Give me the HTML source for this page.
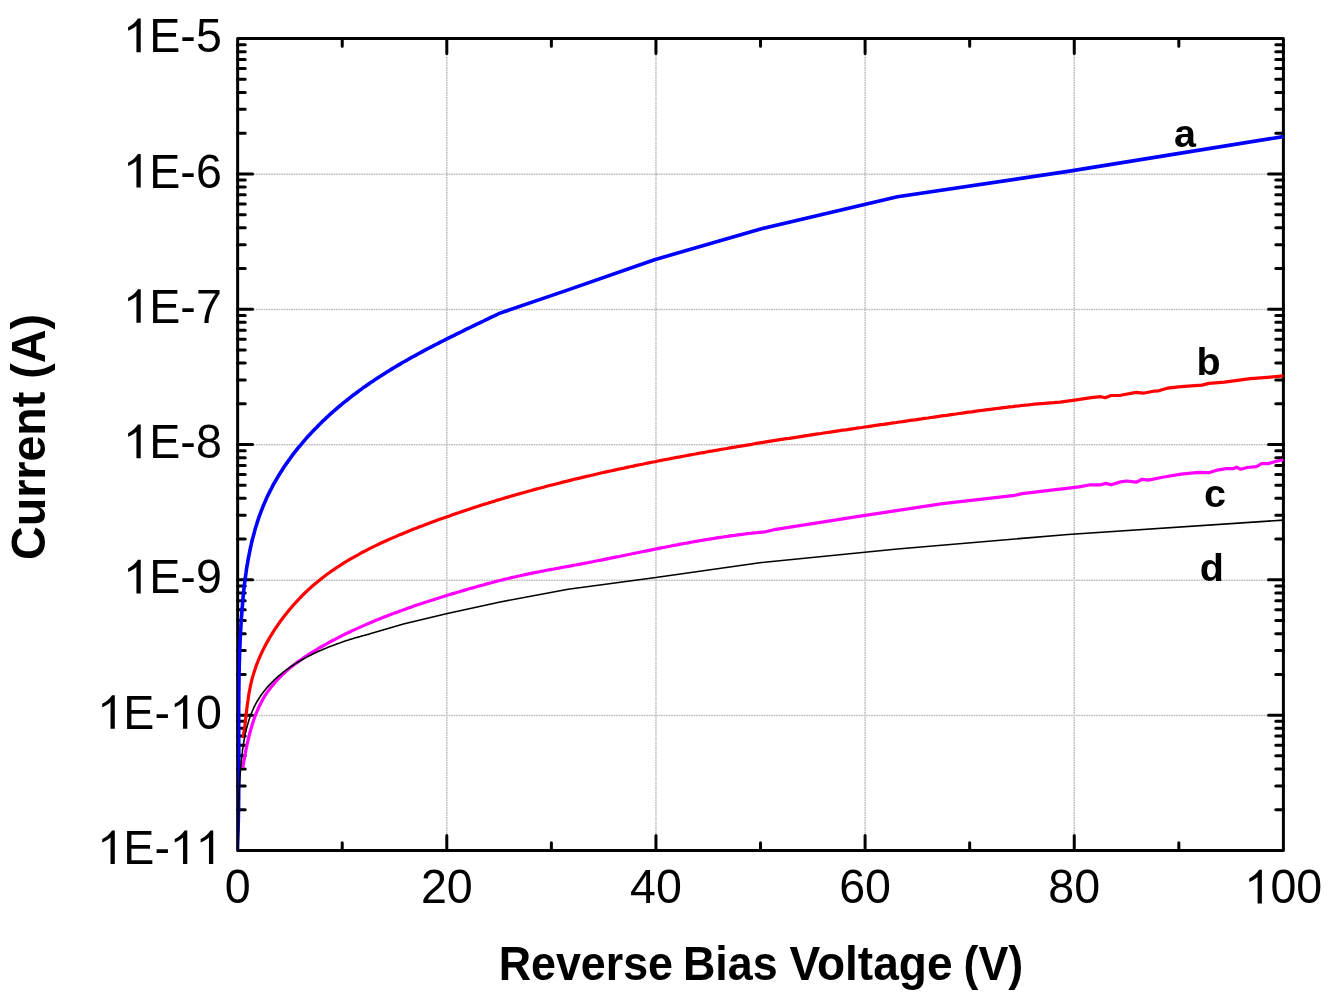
<!DOCTYPE html><html><head><meta charset="utf-8"><style>html,body{margin:0;padding:0;background:#fff;overflow:hidden;width:1329px;height:1000px;}svg{display:block;will-change:transform;}text{font-family:"Liberation Sans",sans-serif;}</style></head><body>
<svg width="1329" height="1000" viewBox="0 0 1329 1000">
<rect width="1329" height="1000" fill="#fff"/>
<path d="M446.80 54.60V834.45M655.95 54.60V834.45M865.10 54.60V834.45M1074.25 54.60V834.45M253.65 174.21H1267.40M253.65 309.52H1267.40M253.65 444.83H1267.40M253.65 580.13H1267.40M253.65 715.44H1267.40" stroke="#bdbdbd" stroke-width="1.5" stroke-dasharray="1.7 0.8" fill="none"/>
<path d="M342.23 850.45v-7.6M342.23 38.60v7.6M446.80 850.45v-14.9M446.80 38.60v14.9M551.38 850.45v-7.6M551.38 38.60v7.6M655.95 850.45v-14.9M655.95 38.60v14.9M760.52 850.45v-7.6M760.52 38.60v7.6M865.10 850.45v-14.9M865.10 38.60v14.9M969.67 850.45v-7.6M969.67 38.60v7.6M1074.25 850.45v-14.9M1074.25 38.60v14.9M1178.83 850.45v-7.6M1178.83 38.60v7.6M237.65 133.18h7.6M1283.40 133.18h-7.6M237.65 109.35h7.6M1283.40 109.35h-7.6M237.65 92.44h7.6M1283.40 92.44h-7.6M237.65 79.33h7.6M1283.40 79.33h-7.6M237.65 68.62h7.6M1283.40 68.62h-7.6M237.65 59.56h7.6M1283.40 59.56h-7.6M237.65 51.71h7.6M1283.40 51.71h-7.6M237.65 44.79h7.6M1283.40 44.79h-7.6M237.65 173.91h14.9M1283.40 173.91h-14.9M237.65 268.48h7.6M1283.40 268.48h-7.6M237.65 244.66h7.6M1283.40 244.66h-7.6M237.65 227.75h7.6M1283.40 227.75h-7.6M237.65 214.64h7.6M1283.40 214.64h-7.6M237.65 203.93h7.6M1283.40 203.93h-7.6M237.65 194.87h7.6M1283.40 194.87h-7.6M237.65 187.02h7.6M1283.40 187.02h-7.6M237.65 180.10h7.6M1283.40 180.10h-7.6M237.65 309.22h14.9M1283.40 309.22h-14.9M237.65 403.79h7.6M1283.40 403.79h-7.6M237.65 379.97h7.6M1283.40 379.97h-7.6M237.65 363.06h7.6M1283.40 363.06h-7.6M237.65 349.95h7.6M1283.40 349.95h-7.6M237.65 339.23h7.6M1283.40 339.23h-7.6M237.65 330.18h7.6M1283.40 330.18h-7.6M237.65 322.33h7.6M1283.40 322.33h-7.6M237.65 315.41h7.6M1283.40 315.41h-7.6M237.65 444.53h14.9M1283.40 444.53h-14.9M237.65 539.10h7.6M1283.40 539.10h-7.6M237.65 515.27h7.6M1283.40 515.27h-7.6M237.65 498.37h7.6M1283.40 498.37h-7.6M237.65 485.26h7.6M1283.40 485.26h-7.6M237.65 474.54h7.6M1283.40 474.54h-7.6M237.65 465.48h7.6M1283.40 465.48h-7.6M237.65 457.64h7.6M1283.40 457.64h-7.6M237.65 450.72h7.6M1283.40 450.72h-7.6M237.65 579.83h14.9M1283.40 579.83h-14.9M237.65 674.41h7.6M1283.40 674.41h-7.6M237.65 650.58h7.6M1283.40 650.58h-7.6M237.65 633.68h7.6M1283.40 633.68h-7.6M237.65 620.57h7.6M1283.40 620.57h-7.6M237.65 609.85h7.6M1283.40 609.85h-7.6M237.65 600.79h7.6M1283.40 600.79h-7.6M237.65 592.95h7.6M1283.40 592.95h-7.6M237.65 586.02h7.6M1283.40 586.02h-7.6M237.65 715.14h14.9M1283.40 715.14h-14.9M237.65 809.72h7.6M1283.40 809.72h-7.6M237.65 785.89h7.6M1283.40 785.89h-7.6M237.65 768.99h7.6M1283.40 768.99h-7.6M237.65 755.87h7.6M1283.40 755.87h-7.6M237.65 745.16h7.6M1283.40 745.16h-7.6M237.65 736.10h7.6M1283.40 736.10h-7.6M237.65 728.25h7.6M1283.40 728.25h-7.6M237.65 721.33h7.6M1283.40 721.33h-7.6" stroke="#000" stroke-width="3" stroke-linecap="round" fill="none"/>
<rect x="237.65" y="38.6" width="1045.75" height="811.85" fill="none" stroke="#000" stroke-width="3" stroke-linejoin="round"/>
<clipPath id="pc"><rect x="237.65" y="36.6" width="1046.55" height="813.85"/></clipPath><g clip-path="url(#pc)">
<path d="M237.3 850.0 L237.4 847.4 L237.5 844.9 L237.6 842.3 L237.7 839.8 L237.8 837.2 L237.9 834.7 L238.0 832.1 L238.1 829.6 L238.1 827.0 L238.2 824.5 L238.3 821.9 L238.3 819.4 L238.4 816.8 L238.4 814.3 L238.5 811.7 L238.5 809.2 L238.6 806.7 L238.6 804.1 L238.6 801.6 L238.7 799.0 L238.7 796.5 L238.7 793.9 L238.7 791.4 L238.7 788.9 L238.8 786.3 L238.8 783.8 L238.8 781.2 L238.8 778.7 L238.8 776.2 L238.8 773.6 L238.8 771.1 L238.8 768.5 L238.8 766.0 L238.8 763.5 L238.8 760.9 L238.8 758.4 L238.8 755.8 L238.8 753.3 L238.8 750.8 L238.8 748.2 L238.8 745.7 L238.8 743.2 L238.7 740.6 L238.7 738.1 L238.7 735.5 L238.7 733.0 L238.7 730.5 L238.7 727.9 L238.7 725.4 L238.7 722.8 L238.7 720.3 L238.7 717.8 L238.7 715.2 L238.7 712.7 L238.7 710.1 L238.7 707.6 L238.7 705.1 L238.8 702.5 L238.8 700.0 L238.8 697.4 L238.8 694.9 L238.8 692.3 L238.9 689.8 L238.9 687.3 L238.9 684.7 L239.0 682.2 L239.0 679.6 L239.0 677.1 L239.1 674.5 L239.1 672.0 L239.2 669.4 L239.2 666.9 L239.3 664.3 L239.4 661.8 L239.5 659.2 L239.5 656.7 L239.6 654.1 L239.7 651.6 L239.8 649.0 L239.9 646.5 L240.0 643.9 L240.1 641.4 L240.2 638.8 L240.4 636.3 L240.5 633.7 L240.6 631.2 L240.8 628.6 L240.9 626.0 L241.1 623.5 L241.2 620.9 L241.4 618.4 L241.6 615.8 L241.8 613.2 L241.9 610.7 L242.1 608.1 L242.4 605.5 L242.6 603.0 L242.8 600.4 L243.0 597.8 L243.3 595.3 L243.5 592.7 L243.8 590.2 L244.1 587.6 L244.4 585.0 L244.7 582.5 L245.0 579.9 L245.4 577.4 L245.7 574.9 L246.1 572.3 L246.4 569.8 L246.8 567.2 L247.3 564.7 L247.7 562.2 L248.1 559.7 L248.6 557.2 L249.1 554.7 L249.6 552.2 L250.1 549.7 L250.6 547.2 L251.2 544.7 L251.7 542.2 L252.3 539.8 L253.0 537.3 L253.6 534.9 L254.3 532.4 L254.9 530.0 L255.6 527.6 L256.4 525.2 L257.1 522.8 L257.9 520.4 L258.7 518.0 L259.5 515.6 L260.4 513.3 L261.3 510.9 L262.2 508.6 L263.1 506.2 L264.1 503.9 L265.1 501.6 L266.1 499.3 L267.1 497.1 L268.2 494.8 L269.3 492.6 L270.4 490.3 L271.6 488.1 L272.7 485.9 L273.9 483.7 L275.2 481.5 L276.4 479.3 L277.7 477.1 L279.0 475.0 L280.3 472.9 L281.7 470.7 L283.0 468.6 L284.4 466.5 L285.8 464.4 L287.3 462.4 L288.7 460.3 L290.2 458.3 L291.7 456.2 L293.2 454.2 L294.8 452.2 L296.4 450.2 L297.9 448.2 L299.5 446.3 L301.2 444.3 L302.8 442.4 L304.5 440.5 L306.1 438.5 L307.8 436.6 L309.6 434.8 L311.3 432.9 L313.0 431.0 L314.8 429.2 L316.6 427.4 L318.4 425.5 L320.2 423.7 L322.0 421.9 L323.9 420.2 L325.7 418.4 L327.6 416.7 L329.5 414.9 L331.4 413.2 L333.3 411.5 L335.2 409.8 L337.2 408.1 L339.1 406.5 L341.1 404.8 L343.1 403.2 L345.1 401.6 L347.1 400.0 L349.1 398.4 L351.1 396.8 L353.1 395.2 L355.2 393.7 L357.2 392.2 L359.3 390.6 L361.4 389.1 L363.4 387.6 L365.5 386.2 L367.6 384.7 L369.7 383.2 L371.9 381.8 L374.0 380.4 L376.1 378.9 L378.3 377.5 L380.4 376.2 L382.6 374.8 L384.7 373.4 L386.9 372.0 L389.1 370.7 L391.2 369.4 L393.4 368.0 L395.6 366.7 L397.8 365.4 L400.0 364.1 L402.2 362.8 L404.5 361.5 L406.7 360.3 L408.9 359.0 L411.1 357.7 L413.4 356.5 L415.6 355.3 L417.9 354.0 L420.1 352.8 L422.3 351.6 L424.6 350.4 L426.9 349.2 L429.1 348.0 L431.4 346.8 L433.6 345.7 L435.9 344.5 L438.2 343.3 L440.4 342.2 L442.7 341.0 L445.0 339.9 L447.3 338.7 L449.5 337.6 L451.8 336.4 L454.1 335.3 L456.4 334.2 L458.6 333.1 L460.9 332.0 L463.2 330.9 L465.5 329.7 L467.7 328.6 L470.0 327.5 L472.3 326.4 L474.5 325.3 L476.8 324.2 L479.1 323.2 L481.3 322.1 L483.6 321.0 L485.8 319.9 L488.1 318.8 L490.3 317.7 L492.6 316.6 L494.8 315.6 L497.1 314.5 L499.3 313.4 L568.1 289.9 L654.5 259.7 L761.5 228.7 L897.4 196.8 L1068.0 171.4 L1283.4 136.6" stroke="#0000ff" stroke-width="3.6" fill="none" stroke-linejoin="round" stroke-linecap="butt"/>
<path d="M243.1 738.0 L243.6 734.9 L244.0 731.8 L244.5 728.6 L244.9 725.5 L245.2 722.3 L245.6 719.2 L246.0 716.0 L246.3 712.9 L246.7 709.7 L247.1 706.5 L247.5 703.4 L248.0 700.2 L248.4 697.1 L248.9 693.9 L249.5 690.8 L250.1 687.7 L250.7 684.6 L251.5 681.5 L252.2 678.4 L253.1 675.4 L254.0 672.4 L255.0 669.4 L256.0 666.4 L257.1 663.4 L258.3 660.5 L259.5 657.6 L260.8 654.7 L262.1 651.8 L263.5 649.0 L265.0 646.1 L266.5 643.3 L268.0 640.6 L269.6 637.8 L271.2 635.1 L272.9 632.4 L274.6 629.7 L276.4 627.1 L278.2 624.4 L280.0 621.8 L281.9 619.3 L283.8 616.7 L285.8 614.2 L287.8 611.7 L289.8 609.3 L291.8 606.9 L293.9 604.5 L296.1 602.1 L298.2 599.8 L300.4 597.5 L302.7 595.2 L304.9 593.0 L307.2 590.8 L309.5 588.6 L311.9 586.5 L314.3 584.4 L316.7 582.4 L319.2 580.4 L321.6 578.4 L324.2 576.4 L326.7 574.5 L329.3 572.7 L331.9 570.8 L334.5 569.1 L337.1 567.3 L339.8 565.6 L342.5 563.9 L345.2 562.2 L347.9 560.5 L350.6 558.9 L353.4 557.3 L356.1 555.8 L358.9 554.3 L361.7 552.7 L364.5 551.3 L367.3 549.8 L370.1 548.4 L373.0 546.9 L375.8 545.6 L378.7 544.2 L381.6 542.8 L384.5 541.5 L387.3 540.2 L390.2 538.9 L393.2 537.6 L396.1 536.4 L399.0 535.1 L401.9 533.9 L404.9 532.7 L407.8 531.5 L410.8 530.3 L413.7 529.1 L416.7 528.0 L419.6 526.8 L422.6 525.7 L425.6 524.5 L428.5 523.4 L431.5 522.3 L434.5 521.2 L437.5 520.1 L440.5 519.0 L443.5 518.0 L446.5 516.9 L449.5 515.9 L452.5 514.8 L455.5 513.8 L458.5 512.8 L461.5 511.7 L464.5 510.7 L467.5 509.7 L470.5 508.7 L473.5 507.7 L476.5 506.8 L479.6 505.8 L482.6 504.8 L485.6 503.9 L488.6 502.9 L491.7 502.0 L494.7 501.1 L497.7 500.1 L500.8 499.2 L503.8 498.3 L506.9 497.4 L509.9 496.5 L512.9 495.6 L516.0 494.7 L519.0 493.9 L522.1 493.0 L525.1 492.2 L528.2 491.3 L531.3 490.5 L534.3 489.6 L537.4 488.8 L540.5 488.0 L543.5 487.2 L546.6 486.3 L549.7 485.5 L552.7 484.7 L555.8 484.0 L558.9 483.2 L562.0 482.4 L565.0 481.6 L568.1 480.9 L571.2 480.1 L574.3 479.3 L577.4 478.6 L580.5 477.9 L583.5 477.1 L586.6 476.4 L589.7 475.7 L592.8 475.0 L595.9 474.2 L599.0 473.5 L602.1 472.8 L605.2 472.1 L608.3 471.4 L611.4 470.8 L614.5 470.1 L617.6 469.4 L620.7 468.7 L623.8 468.1 L626.9 467.4 L630.0 466.7 L633.1 466.1 L636.3 465.4 L639.4 464.8 L642.5 464.2 L645.6 463.5 L648.7 462.9 L651.8 462.3 L654.9 461.7 L658.0 461.0 L661.2 460.4 L664.3 459.8 L667.4 459.2 L670.5 458.6 L673.6 458.0 L676.8 457.4 L679.9 456.9 L683.0 456.3 L686.1 455.7 L689.2 455.1 L692.4 454.5 L695.5 454.0 L698.6 453.4 L701.7 452.8 L704.9 452.3 L708.0 451.7 L711.1 451.2 L714.3 450.6 L717.4 450.1 L720.5 449.5 L723.6 449.0 L726.8 448.5 L729.9 447.9 L733.0 447.4 L736.2 446.9 L739.3 446.3 L742.4 445.8 L745.6 445.3 L748.7 444.8 L751.8 444.3 L755.0 443.7 L758.1 443.2 L761.2 442.7 L764.4 442.2 L767.5 441.7 L770.6 441.2 L773.8 440.7 L776.9 440.2 L780.0 439.7 L783.2 439.2 L786.3 438.7 L789.4 438.3 L792.6 437.8 L795.7 437.3 L798.9 436.8 L802.0 436.3 L805.1 435.8 L808.3 435.4 L811.4 434.9 L814.5 434.4 L817.7 433.9 L820.8 433.5 L824.0 433.0 L827.1 432.5 L830.2 432.1 L833.4 431.6 L836.5 431.1 L839.7 430.7 L842.8 430.2 L846.0 429.8 L849.1 429.3 L852.2 428.8 L855.4 428.4 L858.5 427.9 L861.7 427.5 L864.8 427.0 L867.9 426.6 L871.1 426.1 L874.2 425.6 L877.4 425.2 L880.5 424.7 L883.7 424.3 L886.8 423.8 L889.9 423.4 L893.1 422.9 L896.2 422.5 L899.4 422.0 L902.5 421.6 L905.7 421.1 L908.8 420.7 L911.9 420.2 L915.1 419.8 L918.2 419.3 L921.4 418.9 L924.5 418.4 L927.7 418.0 L930.8 417.5 L933.9 417.1 L937.1 416.6 L940.2 416.2 L943.4 415.7 L946.5 415.3 L949.6 414.8 L952.8 414.4 L955.9 414.0 L959.1 413.5 L962.2 413.1 L965.4 412.6 L968.5 412.2 L971.7 411.8 L974.8 411.3 L977.9 410.9 L981.1 410.5 L984.2 410.1 L987.4 409.7 L990.5 409.3 L993.7 408.9 L996.8 408.5 L1000.0 408.1 L1003.1 407.7 L1006.3 407.3 L1009.4 406.9 L1012.6 406.6 L1015.7 406.2 L1018.9 405.9 L1022.0 405.5 L1025.2 405.2 L1028.4 404.9 L1031.5 404.5 L1034.7 404.2 L1037.8 403.9 L1041.0 403.6 L1044.2 403.4 L1047.3 403.1 L1050.5 402.8 L1053.7 402.6 L1056.8 402.3 L1060.0 402.1 L1074.7 400.2 L1091.2 397.7 L1100.7 396.7 L1105.3 397.7 L1111.1 395.5 L1120.6 395.3 L1136.2 392.4 L1143.1 393.2 L1153.5 391.2 L1158.6 390.8 L1167.3 388.2 L1181.1 386.7 L1201.9 385.1 L1208.8 383.4 L1224.4 382.2 L1250.4 378.7 L1267.7 377.3 L1283.3 375.9" stroke="#ff0000" stroke-width="3.2" fill="none" stroke-linejoin="round" stroke-linecap="butt"/>
<path d="M242.7 767.9 L243.1 765.6 L243.5 763.2 L243.9 760.8 L244.4 758.4 L244.8 756.0 L245.3 753.5 L245.7 751.1 L246.2 748.7 L246.7 746.3 L247.2 743.9 L247.8 741.4 L248.3 739.0 L248.9 736.6 L249.5 734.2 L250.2 731.8 L250.8 729.4 L251.5 727.0 L252.2 724.7 L253.0 722.3 L253.7 720.0 L254.5 717.7 L255.4 715.4 L256.3 713.1 L257.2 710.8 L258.2 708.6 L259.2 706.4 L260.3 704.2 L261.4 702.0 L262.5 699.9 L263.7 697.8 L265.0 695.7 L266.3 693.7 L267.7 691.7 L269.1 689.8 L270.5 687.8 L272.0 685.9 L273.6 684.1 L275.2 682.2 L276.8 680.4 L278.5 678.7 L280.2 676.9 L281.9 675.2 L283.7 673.5 L285.5 671.9 L287.3 670.2 L289.2 668.6 L291.1 667.1 L293.0 665.5 L295.0 664.0 L296.9 662.6 L298.9 661.1 L301.0 659.7 L303.0 658.3 L305.0 656.9 L307.1 655.5 L309.2 654.2 L311.3 652.9 L313.4 651.6 L315.5 650.3 L317.6 649.0 L319.8 647.7 L321.9 646.5 L324.0 645.3 L326.2 644.1 L328.3 642.9 L330.5 641.7 L332.7 640.5 L334.9 639.4 L337.0 638.3 L339.2 637.1 L341.4 636.0 L343.6 634.9 L345.8 633.8 L348.0 632.8 L350.2 631.7 L352.4 630.6 L354.7 629.6 L356.9 628.6 L359.1 627.6 L361.4 626.6 L363.6 625.6 L365.9 624.6 L368.1 623.6 L370.4 622.7 L372.6 621.7 L374.9 620.8 L377.1 619.8 L379.4 618.9 L381.7 618.0 L384.0 617.1 L386.3 616.2 L388.5 615.3 L390.8 614.4 L393.1 613.6 L395.4 612.7 L397.7 611.9 L400.0 611.0 L402.3 610.2 L404.6 609.4 L406.9 608.5 L409.3 607.7 L411.6 606.9 L413.9 606.1 L416.2 605.3 L418.6 604.5 L420.9 603.8 L423.2 603.0 L425.5 602.2 L427.9 601.5 L430.2 600.7 L432.6 600.0 L434.9 599.2 L437.2 598.5 L439.6 597.7 L441.9 597.0 L444.3 596.3 L446.6 595.5 L449.0 594.8 L451.3 594.1 L453.7 593.4 L456.0 592.7 L458.4 592.0 L460.8 591.3 L463.1 590.6 L465.5 589.9 L467.8 589.2 L470.2 588.5 L472.6 587.9 L474.9 587.2 L477.3 586.5 L479.7 585.9 L482.0 585.2 L484.4 584.6 L486.8 583.9 L489.2 583.3 L491.5 582.7 L493.9 582.0 L496.3 581.4 L498.7 580.8 L501.1 580.2 L503.4 579.6 L505.8 579.0 L508.2 578.5 L510.6 577.9 L513.0 577.3 L515.4 576.8 L517.8 576.2 L520.2 575.7 L522.6 575.2 L525.0 574.6 L527.4 574.1 L529.8 573.6 L532.2 573.1 L534.6 572.6 L537.0 572.2 L539.4 571.7 L541.8 571.2 L544.2 570.8 L546.6 570.3 L549.0 569.8 L551.5 569.4 L553.9 569.0 L556.3 568.5 L558.7 568.1 L561.1 567.6 L563.5 567.2 L565.9 566.7 L568.4 566.3 L570.8 565.9 L573.2 565.4 L575.6 565.0 L578.0 564.5 L580.4 564.1 L582.8 563.6 L585.3 563.2 L587.7 562.7 L590.1 562.2 L592.5 561.8 L594.9 561.3 L597.3 560.8 L599.7 560.3 L602.1 559.9 L604.6 559.4 L607.0 558.9 L609.4 558.4 L611.8 557.9 L614.2 557.4 L616.6 556.9 L619.0 556.5 L621.4 556.0 L623.8 555.5 L626.2 555.0 L628.7 554.5 L631.1 554.0 L633.5 553.5 L635.9 553.0 L638.3 552.5 L640.7 552.0 L643.1 551.5 L645.5 551.1 L647.9 550.6 L650.3 550.1 L652.8 549.6 L655.2 549.1 L657.6 548.6 L660.0 548.1 L662.4 547.7 L664.8 547.2 L667.2 546.7 L669.6 546.3 L672.1 545.8 L674.5 545.3 L676.9 544.9 L679.3 544.4 L681.7 543.9 L684.1 543.5 L686.6 543.1 L689.0 542.6 L691.4 542.2 L693.8 541.7 L696.2 541.3 L698.7 540.9 L701.1 540.5 L703.5 540.1 L705.9 539.7 L708.3 539.3 L710.8 538.9 L713.2 538.5 L715.6 538.1 L718.1 537.7 L720.5 537.3 L722.9 537.0 L725.3 536.6 L727.8 536.3 L730.2 535.9 L732.6 535.6 L735.1 535.3 L737.5 534.9 L740.0 534.6 L742.4 534.3 L744.8 534.0 L747.3 533.7 L749.7 533.5 L752.2 533.2 L754.6 532.9 L757.0 532.7 L759.5 532.4 L761.9 532.2 L764.4 532.0 L774.1 529.7 L865.1 515.3 L942.6 503.7 L1014.9 495.3 L1022.1 493.6 L1060.0 489.1 L1079.0 486.9 L1090.3 484.8 L1100.7 484.8 L1105.9 483.4 L1111.1 484.8 L1120.6 481.9 L1126.6 481.0 L1136.2 482.2 L1142.2 479.3 L1148.3 480.1 L1163.8 477.0 L1181.1 474.1 L1198.5 472.3 L1208.8 472.7 L1215.8 470.4 L1226.1 468.7 L1233.1 468.7 L1236.5 467.2 L1240.9 469.2 L1246.9 467.5 L1256.4 466.6 L1261.6 463.7 L1267.7 463.7 L1274.6 461.8 L1283.3 459.7" stroke="#ff00ff" stroke-width="3.2" fill="none" stroke-linejoin="round" stroke-linecap="butt"/>
<path d="M237.9 851.1 L237.9 849.6 L238.0 848.1 L238.0 846.6 L238.0 845.2 L238.1 843.7 L238.1 842.2 L238.1 840.8 L238.2 839.3 L238.2 837.9 L238.2 836.4 L238.2 835.0 L238.3 833.5 L238.3 832.1 L238.3 830.6 L238.3 829.2 L238.3 827.7 L238.4 826.3 L238.4 824.9 L238.4 823.4 L238.4 822.0 L238.5 820.6 L238.5 819.1 L238.5 817.7 L238.5 816.3 L238.6 814.8 L238.6 813.4 L238.6 812.0 L238.6 810.6 L238.7 809.1 L238.7 807.7 L238.7 806.3 L238.8 804.9 L238.8 803.4 L238.8 802.0 L238.9 800.6 L238.9 799.2 L239.0 797.8 L239.0 796.3 L239.1 794.9 L239.1 793.5 L239.2 792.1 L239.2 790.6 L239.3 789.2 L239.4 787.8 L239.4 786.4 L239.5 784.9 L239.6 783.5 L239.6 782.1 L239.7 780.7 L239.8 779.2 L239.9 777.8 L240.0 776.4 L240.1 774.9 L240.2 773.5 L240.3 772.1 L240.4 770.6 L240.5 769.2 L240.7 767.8 L240.8 766.3 L240.9 764.9 L241.1 763.4 L241.2 762.0 L241.3 760.5 L241.5 759.1 L241.7 757.6 L241.8 756.2 L242.0 754.7 L242.2 753.3 L242.4 751.8 L242.5 750.3 L242.7 748.9 L243.0 747.4 L243.2 746.0 L243.4 744.5 L243.6 743.0 L243.9 741.6 L244.1 740.1 L244.4 738.7 L244.7 737.2 L244.9 735.8 L245.2 734.3 L245.5 732.9 L245.9 731.5 L246.2 730.0 L246.5 728.6 L246.9 727.2 L247.3 725.8 L247.7 724.4 L248.1 723.0 L248.5 721.6 L248.9 720.2 L249.4 718.8 L249.8 717.5 L250.3 716.1 L250.8 714.8 L251.3 713.4 L251.9 712.1 L252.4 710.8 L253.0 709.5 L253.6 708.2 L254.2 706.9 L254.8 705.6 L255.5 704.4 L256.1 703.2 L256.8 701.9 L257.5 700.7 L258.3 699.5 L259.0 698.3 L259.8 697.2 L260.5 696.0 L261.3 694.8 L262.2 693.7 L263.0 692.6 L263.8 691.5 L264.7 690.4 L265.6 689.3 L266.5 688.2 L267.4 687.1 L268.3 686.1 L269.3 685.0 L270.2 684.0 L271.2 683.0 L272.2 682.0 L273.2 681.0 L274.2 680.0 L275.2 679.0 L276.3 678.1 L277.3 677.1 L278.4 676.2 L279.5 675.3 L280.6 674.4 L281.7 673.5 L282.8 672.6 L283.9 671.7 L285.1 670.8 L286.2 669.9 L287.4 669.1 L288.6 668.3 L289.8 667.4 L290.9 666.6 L292.1 665.8 L293.4 665.0 L294.6 664.2 L295.8 663.4 L297.0 662.7 L298.3 661.9 L299.5 661.2 L300.8 660.4 L302.1 659.7 L303.4 659.0 L304.6 658.3 L305.9 657.6 L307.2 656.9 L308.5 656.2 L309.8 655.5 L311.2 654.9 L312.5 654.2 L313.8 653.6 L315.1 652.9 L316.5 652.3 L317.8 651.7 L319.1 651.1 L320.5 650.5 L321.8 649.9 L323.2 649.3 L324.6 648.7 L325.9 648.2 L327.3 647.6 L328.6 647.1 L330.0 646.5 L331.4 646.0 L332.7 645.5 L334.1 644.9 L335.5 644.4 L336.8 643.9 L338.2 643.4 L339.6 643.0 L341.0 642.5 L342.3 642.0 L343.7 641.5 L345.1 641.1 L346.4 640.6 L347.8 640.2 L349.2 639.8 L350.5 639.3 L351.9 638.9 L353.2 638.5 L354.6 638.1 L355.9 637.7 L357.3 637.3 L358.6 636.9 L359.9 636.6 L361.3 636.2 L362.6 635.8 L363.9 635.5 L365.3 635.1 L366.6 634.8 L367.9 634.4 L369.2 634.1 L403.4 624.0 L446.3 613.8 L500.1 602.0 L568.1 589.3 L654.0 577.8 L761.5 562.5 L897.4 549.0 L1068.0 534.5 L1283.2 520.1" stroke="#000000" stroke-width="1.6" fill="none" stroke-linejoin="round" stroke-linecap="butt"/>
</g>
<defs><path id="one" d="M13.07 0H17.35V-33.6H14.6C12.5 -30.0 8.5 -26.8 4.75 -25.0V-21.5C8 -22.8 10.8 -24.4 13.07 -26.5Z"/></defs>
<use href="#one" transform="translate(123.37 52.20)"/>
<text transform="translate(149.28 52.20) scale(1 1.042)" font-size="46.6">E</text>
<text transform="translate(180.37 52.20) scale(1 1.042)" font-size="46.6">-</text>
<text transform="translate(195.88 52.20) scale(1 1.042)" font-size="46.6">5</text>
<use href="#one" transform="translate(123.37 187.51)"/>
<text transform="translate(149.28 187.51) scale(1 1.042)" font-size="46.6">E</text>
<text transform="translate(180.37 187.51) scale(1 1.042)" font-size="46.6">-</text>
<text transform="translate(195.88 187.51) scale(1 1.042)" font-size="46.6">6</text>
<use href="#one" transform="translate(123.37 322.82)"/>
<text transform="translate(149.28 322.82) scale(1 1.042)" font-size="46.6">E</text>
<text transform="translate(180.37 322.82) scale(1 1.042)" font-size="46.6">-</text>
<text transform="translate(195.88 322.82) scale(1 1.042)" font-size="46.6">7</text>
<use href="#one" transform="translate(123.37 458.13)"/>
<text transform="translate(149.28 458.13) scale(1 1.042)" font-size="46.6">E</text>
<text transform="translate(180.37 458.13) scale(1 1.042)" font-size="46.6">-</text>
<text transform="translate(195.88 458.13) scale(1 1.042)" font-size="46.6">8</text>
<use href="#one" transform="translate(123.37 593.43)"/>
<text transform="translate(149.28 593.43) scale(1 1.042)" font-size="46.6">E</text>
<text transform="translate(180.37 593.43) scale(1 1.042)" font-size="46.6">-</text>
<text transform="translate(195.88 593.43) scale(1 1.042)" font-size="46.6">9</text>
<use href="#one" transform="translate(97.45 728.74)"/>
<text transform="translate(123.37 728.74) scale(1 1.042)" font-size="46.6">E</text>
<text transform="translate(154.45 728.74) scale(1 1.042)" font-size="46.6">-</text>
<use href="#one" transform="translate(169.97 728.74)"/>
<text transform="translate(195.88 728.74) scale(1 1.042)" font-size="46.6">0</text>
<use href="#one" transform="translate(97.45 864.05)"/>
<text transform="translate(123.37 864.05) scale(1 1.042)" font-size="46.6">E</text>
<text transform="translate(154.45 864.05) scale(1 1.042)" font-size="46.6">-</text>
<use href="#one" transform="translate(169.97 864.05)"/>
<use href="#one" transform="translate(195.88 864.05)"/>
<text transform="translate(224.69 903.40) scale(1 1.042)" font-size="46.6">0</text>
<text transform="translate(420.88 903.40) scale(1 1.042)" font-size="46.6">2</text>
<text transform="translate(446.80 903.40) scale(1 1.042)" font-size="46.6">0</text>
<text transform="translate(630.03 903.40) scale(1 1.042)" font-size="46.6">4</text>
<text transform="translate(655.95 903.40) scale(1 1.042)" font-size="46.6">0</text>
<text transform="translate(839.18 903.40) scale(1 1.042)" font-size="46.6">6</text>
<text transform="translate(865.10 903.40) scale(1 1.042)" font-size="46.6">0</text>
<text transform="translate(1048.33 903.40) scale(1 1.042)" font-size="46.6">8</text>
<text transform="translate(1074.25 903.40) scale(1 1.042)" font-size="46.6">0</text>
<use href="#one" transform="translate(1244.52 903.40)"/>
<text transform="translate(1270.44 903.40) scale(1 1.042)" font-size="46.6">0</text>
<text transform="translate(1296.36 903.40) scale(1 1.042)" font-size="46.6">0</text>
<text transform="translate(498.70 980) scale(1.0 1.07)" font-size="44.8" font-weight="bold">Reverse</text>
<text transform="translate(683.00 980) scale(1.0 1.07)" font-size="44.8" font-weight="bold">Bias</text>
<text transform="translate(789.59 980) scale(1.028 1.07)" font-size="44.8" font-weight="bold">Voltage</text>
<text transform="translate(963.57 980) scale(1.0 1.07)" font-size="44.8" font-weight="bold">(V)</text>
<text transform="translate(45 437.0) rotate(-90) scale(1 1.042)" font-size="46.6" font-weight="bold" text-anchor="middle">Current (A)</text>
<text x="1174.0" y="147.3" font-size="39.5" font-weight="bold">a</text>
<text x="1196.4" y="374.6" font-size="39.5" font-weight="bold">b</text>
<text x="1204.1" y="507.3" font-size="39.5" font-weight="bold">c</text>
<text x="1199.8" y="580.8" font-size="39.5" font-weight="bold">d</text>
</svg></body></html>
